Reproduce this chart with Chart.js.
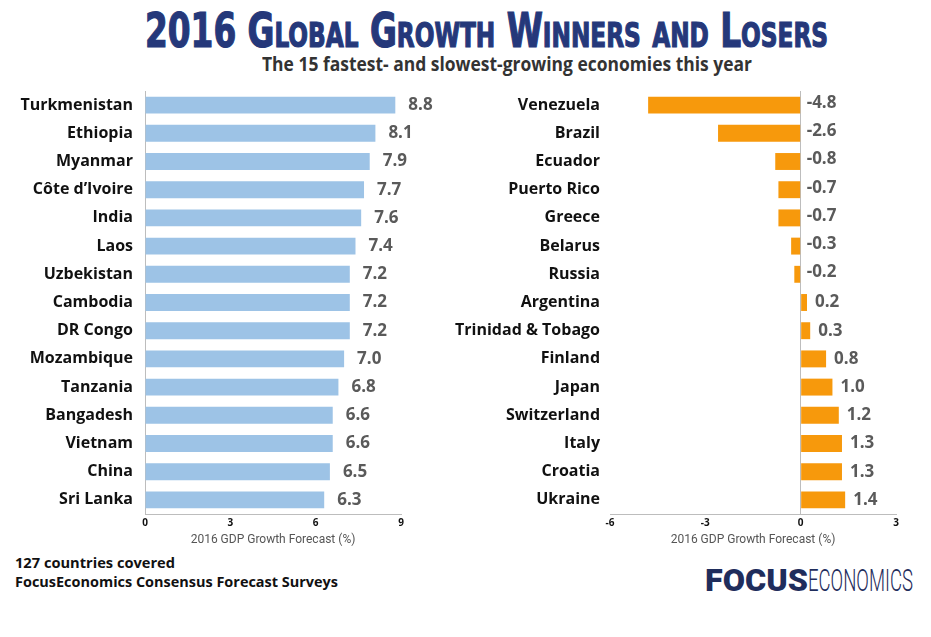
<!DOCTYPE html>
<html><head><meta charset="utf-8">
<script src="https://cdn.jsdelivr.net/npm/chart.js@4"></script>
<style>
html,body{margin:0;padding:0;background:#fff;width:931px;height:637px;overflow:hidden;}
.t{position:absolute;white-space:nowrap;line-height:1;transform-origin:0 0;}
canvas{position:absolute;}
</style></head><body>
<div class="t fit" data-w="683" style="left:145px;top:2px;font:bold 48px 'DejaVu Sans Condensed','Liberation Sans Narrow',sans-serif;font-variant:small-caps;color:#25387a;-webkit-text-stroke:1.2px #25387a;">2016 Global Growth Winners and Losers</div>
<div class="t fit" data-w="490" style="left:262px;top:50px;font:bold 20px 'Open Sans',sans-serif;color:#333;">The 15 fastest- and slowest-growing economies this year</div>
<div class="t fit" data-w="160" style="left:15px;top:552px;font:bold 15px 'Open Sans',sans-serif;color:#111;">127 countries covered</div>
<div class="t fit" data-w="323" style="left:15px;top:571px;font:bold 15px 'Open Sans',sans-serif;color:#111;">FocusEconomics Consensus Forecast Surveys</div>
<div class="t fit" data-w="103" style="left:705px;top:561px;font:900 32px Roboto,sans-serif;color:#1f2d5c;">FOCUS</div>
<div class="t fit" data-w="105" style="left:808px;top:561px;font:300 32px Roboto,sans-serif;color:#1f2d5c;">ECONOMICS</div>
<canvas id="left" width="460" height="470" style="left:0;top:80px;width:460px;height:470px;"></canvas>
<canvas id="right" width="491" height="470" style="left:440px;top:80px;width:491px;height:470px;"></canvas>
<script>
const winners = ['Turkmenistan','Ethiopia','Myanmar','Côte d’Ivoire','India','Laos','Uzbekistan','Cambodia','DR Congo','Mozambique','Tanzania','Bangadesh','Vietnam','China','Sri Lanka'];
const winnerValues = [8.8,8.1,7.9,7.7,7.6,7.4,7.2,7.2,7.2,7.0,6.8,6.6,6.6,6.5,6.3];
const losers = ['Venezuela','Brazil','Ecuador','Puerto Rico','Greece','Belarus','Russia','Argentina','Trinidad & Tobago','Finland','Japan','Switzerland','Italy','Croatia','Ukraine'];
const loserValues = [-4.8,-2.6,-0.8,-0.7,-0.7,-0.3,-0.2,0.2,0.3,0.8,1.0,1.2,1.3,1.3,1.4];
const leftTicks = [0,3,6,9];
const rightTicks = [-6,-3,0,3];
const axisTitle = '2016 GDP Growth Forecast (%)';

document.querySelectorAll('.fit').forEach(el => {
  const w = el.getBoundingClientRect().width;
  el.style.transform = 'scaleX(' + (parseFloat(el.dataset.w) / w) + ')';
});

const valueLabels = {
  id: 'valueLabels',
  afterDatasetsDraw(chart, args, opts) {
    const ctx = chart.ctx;
    const meta = chart.getDatasetMeta(0);
    const zero = chart.scales.x.getPixelForValue(0);
    const data = chart.data.datasets[0].data;
    ctx.save();
    ctx.font = 'bold 17px "Open Sans"';
    ctx.fillStyle = '#5a5a5a';
    ctx.textBaseline = 'middle';
    ctx.textAlign = 'left';
    meta.data.forEach((bar, i) => {
      const v = data[i];
      const x = v < 0 ? zero + opts.negGap : bar.x + opts.gap;
      ctx.fillText(v.toFixed(1), x, bar.y + (v < 0 ? opts.negDy : 0));
    });
    ctx.restore();
  }
};

function makeChart(id, labels, values, color, ticks, yWidth, labelPad, pad, gap, yBorder, zeroLine) {
  return new Chart(document.getElementById(id), {
    type: 'bar',
    data: { labels: labels, datasets: [{ data: values, backgroundColor: color, barPercentage: 0.6, categoryPercentage: 1.0 }] },
    plugins: [valueLabels],
    options: {
      indexAxis: 'y',
      responsive: false,
      animation: false,
      devicePixelRatio: 1,
      layout: { padding: pad },
      plugins: { legend: { display: false }, tooltip: { enabled: false }, valueLabels: { gap: gap, negGap: 6, negDy: -2 } },
      scales: {
        x: {
          type: 'linear',
          min: ticks[0], max: ticks[ticks.length - 1],
          afterFit(scale) { scale.height = 35; scale.paddingLeft = 0; scale.paddingRight = 0; },
          ticks: { stepSize: ticks[1] - ticks[0], padding: 3, color: '#111', font: { family: 'Open Sans', size: 10, weight: 'bold' } },
          grid: { drawTicks: false, color: ctx => (zeroLine && ctx.tick && ctx.tick.value === 0) ? '#bdbdbd' : 'rgba(0,0,0,0)' },
          border: { display: true, color: '#bdbdbd', width: 1 },
          title: { display: true, text: axisTitle, color: '#555', padding: { top: 4, bottom: 2 }, font: { family: 'Roboto', size: 12 } }
        },
        y: {
          type: 'category',
          afterFit(scale) { scale.width = yWidth; scale.paddingTop = 0; scale.paddingBottom = 0; },
          ticks: { padding: labelPad, color: '#111', font: { family: 'Open Sans', size: 16, weight: 'bold' } },
          grid: { display: false, drawTicks: false },
          border: { display: yBorder, color: '#bdbdbd', width: 1 }
        }
      }
    }
  });
}

makeChart('left', winners, winnerValues, '#9dc3e6', leftTicks, 145, 12, { top: 11, right: 59, bottom: 1, left: 0 }, 13, true, false);
makeChart('right', losers, loserValues, '#f7990c', rightTicks, 170, 10, { top: 11, right: 35, bottom: 1, left: 0 }, 8, false, true);
</script>
</body></html>
